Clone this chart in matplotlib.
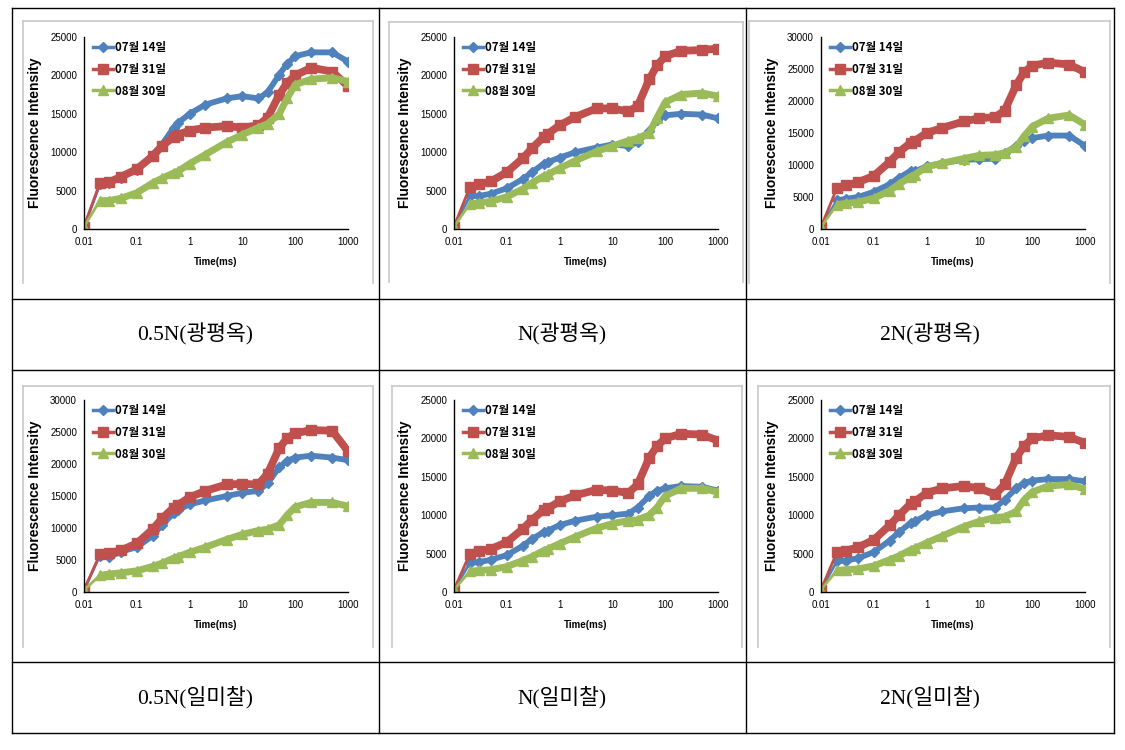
import numpy as np
import matplotlib
matplotlib.use("Agg")
import matplotlib.pyplot as plt
from matplotlib import font_manager
from matplotlib.lines import Line2D

# measuring times (ms)
times = [0.01, 0.02, 0.03, 0.05, 0.1, 0.2, 0.3, 0.5, 0.6, 1, 2, 5, 10, 20, 30, 50, 70, 100, 200, 500, 1000]

series_labels = ['07월 14일', '07월 31일', '08월 30일']

# 0.5N (광평옥)
gp05_0714 = [300, 5800, 6000, 6700, 7700, 9600, 11000, 13200, 13800, 15000, 16200, 17000, 17300, 17000, 17800, 20100, 21500, 22500, 23000, 23000, 21800]
gp05_0731 = [300, 6000, 6100, 6800, 7800, 9500, 10800, 12000, 12300, 12800, 13200, 13400, 13200, 13500, 14500, 17500, 19000, 20000, 21000, 20500, 18600]
gp05_0830 = [300, 3700, 3700, 4000, 4700, 6000, 6600, 7300, 7500, 8500, 9700, 11300, 12300, 13200, 13700, 15000, 17000, 18800, 19500, 19700, 19200]
# N (광평옥)
gpN_0714 = [300, 4300, 4300, 4600, 5300, 6500, 7400, 8500, 8700, 9300, 10000, 10600, 11000, 10800, 11300, 12800, 14200, 14800, 15000, 14900, 14400]
gpN_0731 = [300, 5500, 5800, 6200, 7400, 9200, 10500, 12000, 12400, 13500, 14600, 15700, 15700, 15300, 16000, 19500, 21300, 22500, 23200, 23300, 23500]
gpN_0830 = [300, 3300, 3400, 3600, 4200, 5200, 6000, 6900, 7100, 7900, 8900, 10100, 10800, 11500, 11800, 12500, 14500, 16500, 17500, 17700, 17300]
# 2N (광평옥)
gp2_0714 = [300, 4500, 4700, 5000, 5800, 7000, 8000, 9100, 9000, 9800, 10300, 10800, 10900, 11000, 11800, 13000, 13800, 14200, 14600, 14600, 13000]
gp2_0731 = [300, 6400, 6800, 7300, 8300, 10500, 12000, 13500, 13800, 15000, 15800, 16800, 17300, 17500, 18500, 22500, 24500, 25500, 26000, 25700, 24500]
gp2_0830 = [300, 3800, 4000, 4200, 4800, 6000, 7000, 8200, 8500, 9700, 10300, 11000, 11500, 11600, 11900, 12800, 14500, 16000, 17300, 17800, 16300]
# 0.5N (일미찰)
im05_0714 = [300, 5700, 5500, 6300, 7000, 8800, 10500, 12300, 12800, 13700, 14300, 15000, 15500, 15800, 17000, 19500, 20500, 21000, 21300, 21000, 20600]
im05_0731 = [300, 5900, 6100, 6500, 7600, 9800, 11500, 13200, 13600, 14800, 15800, 16800, 16900, 16800, 18500, 22500, 24000, 24800, 25300, 25200, 22000]
im05_0830 = [300, 2600, 2800, 3000, 3300, 4000, 4500, 5300, 5500, 6200, 7000, 8200, 9000, 9600, 9800, 10500, 12000, 13300, 14000, 14000, 13400]
# N (일미찰)
imN_0714 = [300, 3800, 3900, 4200, 4800, 6000, 6900, 7800, 8000, 8700, 9300, 9800, 10000, 10200, 11000, 12500, 13200, 13500, 13800, 13700, 13200]
imN_0731 = [300, 5000, 5300, 5600, 6500, 8200, 9400, 10700, 10900, 11800, 12600, 13300, 13200, 12900, 14000, 17500, 19000, 20000, 20600, 20500, 19700]
imN_0830 = [300, 2700, 2800, 2900, 3300, 4100, 4600, 5400, 5600, 6300, 7200, 8300, 8900, 9300, 9400, 10000, 11000, 12500, 13500, 13500, 13000]
# 2N (일미찰)
im2_0714 = [300, 4000, 4100, 4400, 5200, 6700, 7800, 9000, 9200, 10000, 10500, 10900, 11000, 11000, 12000, 13500, 14200, 14500, 14700, 14700, 14400]
im2_0731 = [300, 5200, 5400, 5800, 6800, 8700, 10000, 11500, 11800, 12900, 13500, 13800, 13500, 12700, 14000, 17500, 19000, 20000, 20400, 20200, 19400]
im2_0830 = [300, 2800, 2900, 3000, 3400, 4200, 4700, 5500, 5700, 6400, 7300, 8500, 9200, 9700, 9800, 10500, 12000, 13000, 13800, 14000, 13400]

captions = ['0.5N(광평옥)', 'N(광평옥)', '2N(광평옥)', '0.5N(일미찰)', 'N(일미찰)', '2N(일미찰)']
ymaxes = [25000, 25000, 30000, 30000, 25000, 25000]
panels = [
    (gp05_0714, gp05_0731, gp05_0830),
    (gpN_0714, gpN_0731, gpN_0830),
    (gp2_0714, gp2_0731, gp2_0830),
    (im05_0714, im05_0731, im05_0830),
    (imN_0714, imN_0731, imN_0830),
    (im2_0714, im2_0731, im2_0830),
]
xtick_vals = [0.01, 0.1, 1, 10, 100, 1000]
xtick_labels = ['0.01', '0.1', '1', '10', '100', '1000']

colors = ['#4F81BD', '#C0504D', '#9BBB59']
markers = ['D', 's', '^']
msizes = [5, 6.5, 7]
bands = [4.2, 5.6, 5.0]

installed = {f.name for f in font_manager.fontManager.ttflist}
narrow = 'Liberation Sans Narrow' if 'Liberation Sans Narrow' in installed else 'Liberation Sans'
tick_fs = 7.5 if narrow == 'Liberation Sans Narrow' else 7.0
time_fs = 7.5 if narrow == 'Liberation Sans Narrow' else 7.0

W, H = 1125, 750
fig = plt.figure(figsize=(W / 100, H / 100), dpi=100)
fig.patch.set_facecolor('white')


def px(x, y):
    return x / W, 1 - y / H


def fline(x0, y0, x1, y1, color='black', lw=1.0):
    a, b = px(x0, y0)
    c, d = px(x1, y1)
    fig.add_artist(Line2D([a, c], [b, d], color=color, lw=lw, transform=fig.transFigure))


# table grid
for yy in [7.5, 299, 370, 662, 733]:
    fline(12, yy, 1114, yy, lw=1.0)
for xx in [12, 379, 746, 1114]:
    fline(xx, 7.5, xx, 733, lw=1.0)

# excel chart frames (light gray)
frames = [(23, 21, 373, 283), (389, 22, 743, 282), (749, 21, 1110, 283),
          (23, 386, 373, 647), (392, 386, 742, 647), (758, 386, 1110, 647)]
for (x0, y0, x1, y1) in frames:
    fline(x0, y1, x0, y0, color='#c8c8c8', lw=1.2)
    fline(x0, y0, x1, y0, color='#c8c8c8', lw=1.2)
    fline(x1, y0, x1, y1, color='#c8c8c8', lw=1.2)

col_left = [84, 454, 821]
row_top = [37, 400]
aw, ah = 264, 192
cell_cx = [195.5, 562.5, 930]
cap_cy = [334.5, 697.5]

for k, data in enumerate(panels):
    r, c = divmod(k, 3)
    l, t = col_left[c], row_top[r]
    ax = fig.add_axes([l / W, 1 - (t + ah) / H, aw / W, ah / H])
    ax.set_facecolor('none')
    handles = []
    for i, y in enumerate(data):
        ax.plot(times[1:], y[1:], color=colors[i], lw=bands[i], solid_capstyle='butt',
                solid_joinstyle='round')
        h, = ax.plot(times, y, color=colors[i], lw=2.0, marker=markers[i],
                     ms=msizes[i], mec=colors[i], mfc=colors[i])
        handles.append(h)
    ax.set_xscale('log')
    ax.set_xlim(0.01, 1000)
    ax.set_ylim(0, ymaxes[k])
    ax.set_yticks(np.arange(0, ymaxes[k] + 1, 5000))
    ax.set_yticklabels([str(v) for v in range(0, ymaxes[k] + 1, 5000)],
                       fontsize=tick_fs, family=narrow)
    ax.set_xticks(xtick_vals)
    ax.set_xticklabels(xtick_labels, fontsize=tick_fs, family=narrow)
    ax.xaxis.set_minor_locator(matplotlib.ticker.NullLocator())
    ax.tick_params(axis='both', length=0)
    ax.tick_params(axis='x', pad=6)
    ax.tick_params(axis='y', pad=5)
    for s in ['top', 'right']:
        ax.spines[s].set_visible(False)
    ax.spines['left'].set_linewidth(1.0)
    ax.spines['bottom'].set_linewidth(1.0)
    ax.set_ylabel('Fluorescence Intensity', family='Liberation Sans',
                  fontweight='bold', fontsize=10)
    ax.yaxis.set_label_coords(-0.16, 0.5)
    ax.set_xlabel('Time(ms)', family=narrow, fontweight='bold', fontsize=time_fs)
    ax.xaxis.set_label_coords(0.5, -0.145)
    leg = ax.legend(handles, series_labels, loc='upper left',
                    bbox_to_anchor=(0.005, 1.02), frameon=False,
                    prop={'family': ['Noto Sans CJK KR', 'DejaVu Sans'],
                          'weight': 'bold', 'size': 8.3},
                    handlelength=1.7, handletextpad=0.15, labelspacing=0.75,
                    borderaxespad=0.3)
    for ln in leg.get_lines():
        ln.set_linewidth(2.5)

    cx, cy = px(cell_cx[c], cap_cy[r])
    fig.text(cx, cy, captions[k], ha='center', va='center', fontsize=15.5,
             family=['Liberation Serif', 'Noto Sans CJK KR'])

fig.savefig('out.png', dpi=100, facecolor='white')
